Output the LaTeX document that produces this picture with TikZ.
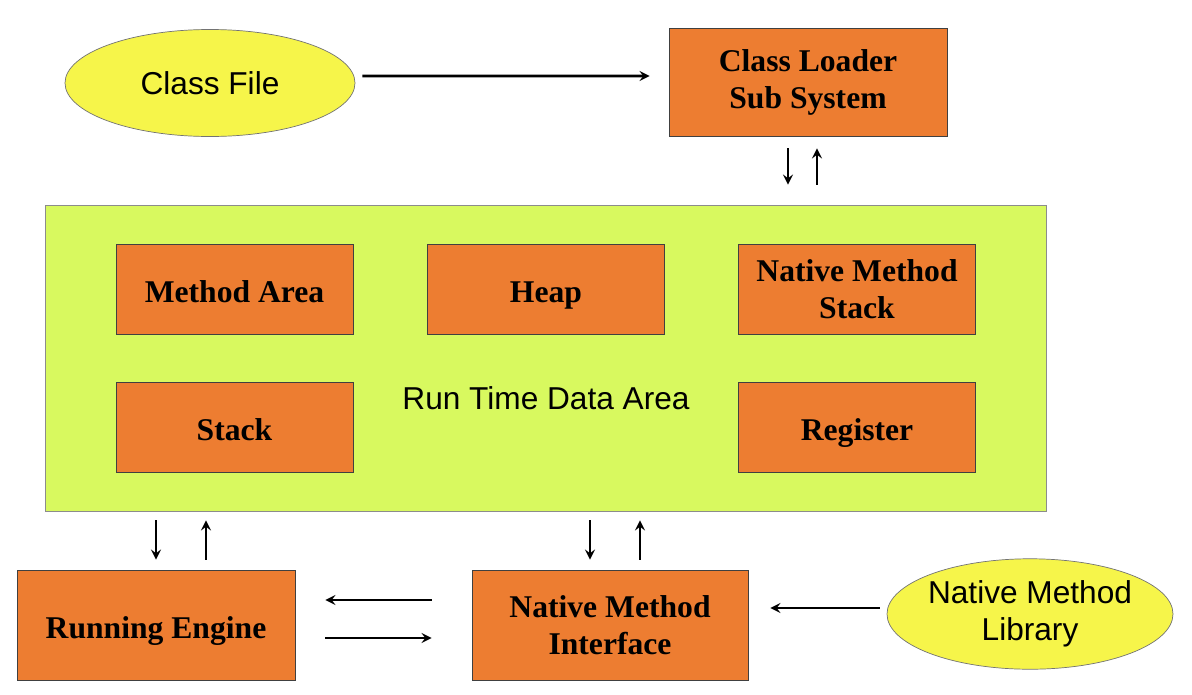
\documentclass[tikz,border=0pt]{standalone}
\usepackage{fontspec}
\setmainfont{Liberation Serif}
\setsansfont{Liberation Sans}
\usepackage{tikz}
\usetikzlibrary{positioning,shapes.geometric}
\definecolor{boxorange}{HTML}{ED7D31}
\definecolor{fileyellow}{HTML}{F6F54A}
\definecolor{areagreen}{HTML}{D8F95F}

\begin{document}
\begin{tikzpicture}[->,>=stealth,line width=1.5pt,on grid,
      unit/.style={rectangle,draw=black!75,thin,fill=boxorange,
        minimum width=4.74cm,minimum height=1.8cm,align=center,
        font=\fontsize{18}{21}\selectfont\bfseries},
      oneline/.style={text height=19.5pt,text depth=3.7pt},
      outer/.style={unit,minimum width=5.56cm,minimum height=2.2cm},
      source/.style={ellipse,draw=black!55,thin,fill=fileyellow,inner xsep=-1mm,
        minimum width=5.8cm,minimum height=2.14cm,align=center,
        font=\fontsize{18}{21}\selectfont\sffamily}]
			\useasboundingbox (0,0) rectangle (23.84,-13.88);
			\node[rectangle,draw=black!45,thin,fill=areagreen,minimum width=20.02cm,
				minimum height=6.12cm] (rtda) at (10.91,-7.16) {};
			\node[font=\fontsize{18}{21}\selectfont\sffamily] (rtdalabel) at (10.92,-7.96) {Run Time Data Area};
			\node[source] (cf) at (4.2,-1.66) {Class File};
			\node[outer,minimum height=2.16cm] (loader) at (16.16,-1.64) {Class Loader\\Sub System};
			\node[unit,oneline] (ma) at (4.69,-5.78) {Method Area};
			\node[unit,oneline] (heap) [right=6.23cm of ma] {Heap};
			\node[unit] (nms) [right=6.22cm of heap] {Native Method\\Stack};
			\node[unit,oneline] (stack) [below=2.76cm of ma] {Stack};
			\node[unit,oneline] (reg) [below=2.76cm of nms] {Register};
			\node[outer,oneline] (re) at (3.12,-12.5) {Running Engine};
			\node[outer,minimum width=5.52cm] (nmi) at (12.2,-12.5) {Native Method\\Interface};
			\node[source,minimum width=5.72cm,minimum height=2.16cm] (nml) at (20.6,-12.28) {Native Method\\Library};
			% loading
			\draw[shorten <=0.14cm,shorten >=0.38cm] ([yshift=1.4mm]cf.east) -- ([yshift=1.2mm]loader.west);
			\draw[shorten <=0.24cm,shorten >=0.4cm] ([xshift=-4mm]loader.south) -- ([xshift=-4mm]loader.south |- rtda.north);
			\draw[shorten <=0.4cm,shorten >=0.24cm] ([xshift=1.8mm]loader.south |- rtda.north) -- ([xshift=1.8mm]loader.south);
			% engine and interface
			\draw[shorten <=0.18cm,shorten >=0.2cm] (re.north |- rtda.south) -- (re.north);
			\draw[shorten <=0.2cm,shorten >=0.18cm] ([xshift=10mm]re.north) -- ([xshift=10mm]re.north |- rtda.south);
			\draw[shorten <=0.18cm,shorten >=0.2cm] ([xshift=-4mm]nmi.north |- rtda.south) -- ([xshift=-4mm]nmi.north);
			\draw[shorten <=0.2cm,shorten >=0.18cm] ([xshift=6mm]nmi.north) -- ([xshift=6mm]nmi.north |- rtda.south);
			\draw[shorten <=0.8cm,shorten >=0.6cm] ([yshift=5mm]nmi.west) -- ([yshift=5mm]re.east);
			\draw[shorten <=0.6cm,shorten >=0.8cm] ([yshift=-2.6mm]re.east) -- ([yshift=-2.6mm]nmi.west);
			\draw[shorten <=0.14cm,shorten >=0.44cm] ([yshift=1.2mm]nml.west) -- ([yshift=1.2mm]nml.west -| nmi.east);
		\end{tikzpicture}
\end{document}
